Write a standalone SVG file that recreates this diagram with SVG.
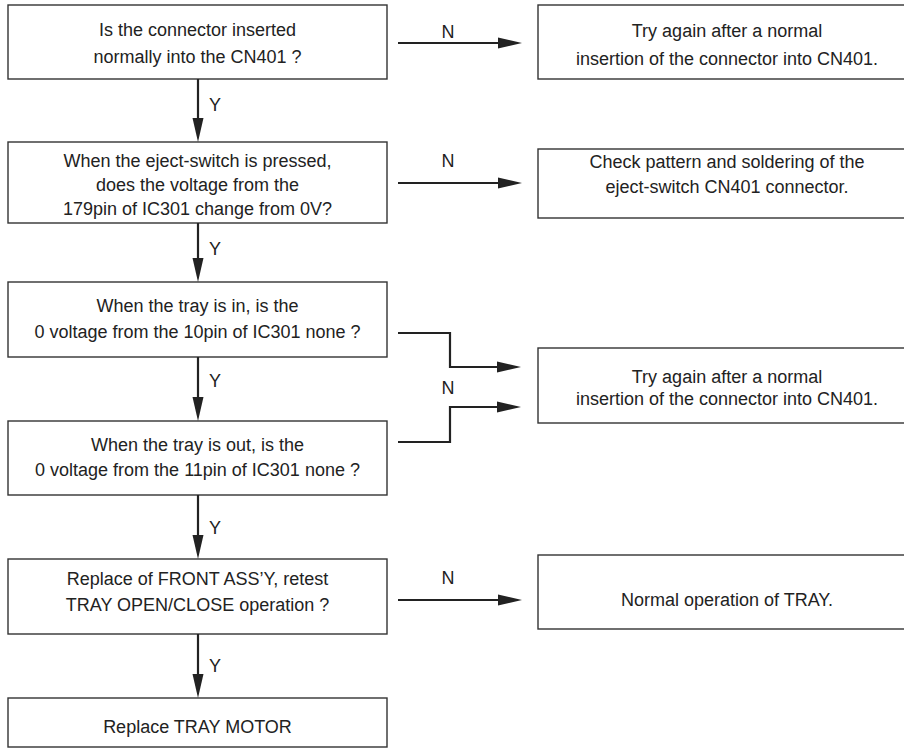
<svg xmlns="http://www.w3.org/2000/svg" width="904" height="750" viewBox="0 0 904 750">
<defs>
<style>
.box{fill:#fff;stroke:#333;stroke-width:1.4}
.t{font-family:"Liberation Sans",Arial,sans-serif;font-size:18px;fill:#222;text-anchor:middle}
.lbl{font-family:"Liberation Sans",Arial,sans-serif;font-size:18px;fill:#222}
.c{fill:none;stroke:#222;stroke-width:2.2}
</style>
<marker id="ah" markerWidth="24" markerHeight="12" refX="14" refY="6" orient="auto" markerUnits="userSpaceOnUse"><path d="M0,0.5 L24,6 L0,11.5 z" fill="#222"/></marker>
</defs>
<rect width="904" height="750" fill="#fff"/>
<g id="q1"><rect class="box" x="8" y="5" width="379" height="74"/>
<text class="t" x="197.5" y="36">Is the connector inserted</text>
<text class="t" x="197.5" y="63">normally into the CN401 ?</text></g>
<g id="q2"><rect class="box" x="8" y="142" width="379" height="81"/>
<text class="t" x="197.5" y="167">When the eject-switch is pressed,</text>
<text class="t" x="197.5" y="191">does the voltage from the</text>
<text class="t" x="197.5" y="215">179pin of IC301 change from 0V?</text></g>
<g id="q3"><rect class="box" x="8" y="282" width="379" height="75"/>
<text class="t" x="197.5" y="312">When the tray is in, is the</text>
<text class="t" x="197.5" y="338">0 voltage from the 10pin of IC301 none ?</text></g>
<g id="q4"><rect class="box" x="8" y="421" width="379" height="74"/>
<text class="t" x="197.5" y="451">When the tray is out, is the</text>
<text class="t" x="197.5" y="476">0 voltage from the 11pin of IC301 none ?</text></g>
<g id="q5"><rect class="box" x="8" y="559" width="379" height="75"/>
<text class="t" x="197.5" y="585">Replace of FRONT ASS’Y, retest</text>
<text class="t" x="197.5" y="611">TRAY OPEN/CLOSE operation ?</text></g>
<g id="a6"><rect class="box" x="8" y="698" width="379" height="49"/>
<text class="t" x="197.5" y="733">Replace TRAY MOTOR</text></g>
<g id="r1"><rect class="box" x="538" y="5" width="378" height="74"/>
<text class="t" x="727" y="37">Try again after a normal</text>
<text class="t" x="727" y="65">insertion of the connector into CN401.</text></g>
<g id="r2"><rect class="box" x="538" y="149" width="378" height="69"/>
<text class="t" x="727" y="168">Check pattern and soldering of the</text>
<text class="t" x="727" y="193">eject-switch CN401 connector.</text></g>
<g id="r3"><rect class="box" x="538" y="348" width="378" height="75"/>
<text class="t" x="727" y="383">Try again after a normal</text>
<text class="t" x="727" y="405">insertion of the connector into CN401.</text></g>
<g id="r5"><rect class="box" x="538" y="555" width="378" height="74"/>
<text class="t" x="727" y="606">Normal operation of TRAY.</text></g>
<g id="connectors">
<path class="c" d="M398,43 H512" marker-end="url(#ah)"/>
<path class="c" d="M398,183 H512" marker-end="url(#ah)"/>
<path class="c" d="M398,333 H450 V367 H511" marker-end="url(#ah)"/>
<path class="c" d="M398,442 H450 V407 H511" marker-end="url(#ah)"/>
<path class="c" d="M398,600 H512" marker-end="url(#ah)"/>
<path class="c" d="M198,79 V132" marker-end="url(#ah)"/>
<path class="c" d="M198,223 V272" marker-end="url(#ah)"/>
<path class="c" d="M198,357 V411" marker-end="url(#ah)"/>
<path class="c" d="M198,495 V549" marker-end="url(#ah)"/>
<path class="c" d="M198,634 V688" marker-end="url(#ah)"/>
<text class="lbl" x="448" y="38" text-anchor="middle">N</text>
<text class="lbl" x="448" y="167" text-anchor="middle">N</text>
<text class="lbl" x="448" y="394" text-anchor="middle">N</text>
<text class="lbl" x="448" y="584" text-anchor="middle">N</text>
<text class="lbl" x="209" y="111">Y</text>
<text class="lbl" x="209" y="255">Y</text>
<text class="lbl" x="209" y="387">Y</text>
<text class="lbl" x="209" y="534">Y</text>
<text class="lbl" x="209" y="672">Y</text>
</g>
</svg>
